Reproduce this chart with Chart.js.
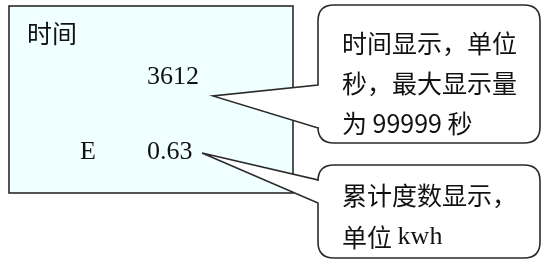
<!DOCTYPE html>
<html>
<head>
<meta charset="utf-8">
<script src="https://cdn.jsdelivr.net/npm/chart.js@4"></script>
<style>
  html, body { margin: 0; padding: 0; background: #ffffff; }
  #wrap { width: 545px; height: 260px; }
</style>
</head>
<body>
<div id="wrap"><canvas id="panel" width="545" height="260"></canvas></div>
<script>
// Display panel contents
const panelTitle = '时间';
const readingLabels = ['', 'E'];
const readingValues = ['3612', '0.63'];

// Callout texts, one array of lines per reading (pieces: [text, serif?])
const calloutLines = [
    [[['时间显示，单位', false]], [['秒，最大显示量', false]], [['为 99999 秒', false]]],
    [[['累计度数显示，', false]], [['单位 ', false], ['kwh', true]]]
];

const cjkFont = '"Noto Sans CJK SC", "Noto Sans", sans-serif';
const serifFont = '"Liberation Serif", "DejaVu Serif", serif';

// Draw a rounded callout box with a pointer on its left side
function drawCallout(ctx, x0, y0, x1, y1, r, baseTop, baseBottom, tipX, tipY) {
    ctx.beginPath();
    ctx.moveTo(x0, baseTop);
    ctx.lineTo(x0, y0 + r);
    ctx.quadraticCurveTo(x0, y0, x0 + r, y0);
    ctx.lineTo(x1 - r, y0);
    ctx.quadraticCurveTo(x1, y0, x1, y0 + r);
    ctx.lineTo(x1, y1 - r);
    ctx.quadraticCurveTo(x1, y1, x1 - r, y1);
    ctx.lineTo(x0 + r, y1);
    ctx.quadraticCurveTo(x0, y1, x0, y1 - r);
    ctx.lineTo(x0, baseBottom);
    ctx.lineTo(tipX, tipY);
    ctx.closePath();
    ctx.fillStyle = '#ffffff';
    ctx.fill();
    ctx.strokeStyle = '#2a2a2a';
    ctx.lineWidth = 1.6;
    ctx.stroke();
}

const panelPlugin = {
    id: 'panelPlugin',
    afterDraw(chart) {
        const ctx = chart.ctx;
        const sx = chart.scales.x;
        const sy = chart.scales.y;
        const px = v => sx.getPixelForValue(v);
        const py = v => sy.getPixelForValue(v);

        ctx.save();

        // display box
        ctx.fillStyle = '#f0ffff';
        ctx.fillRect(px(9), py(6), px(293) - px(9), py(193) - py(6));
        ctx.strokeStyle = '#2a2a2a';
        ctx.lineWidth = 1.6;
        ctx.strokeRect(px(9), py(6), px(293) - px(9), py(193) - py(6));

        ctx.fillStyle = '#111111';
        ctx.textBaseline = 'middle';
        ctx.textAlign = 'left';
        ctx.font = '25px ' + cjkFont;
        ctx.fillText(panelTitle, px(27), py(33));

        ctx.font = '26px ' + serifFont;
        const rowY = [77, 152];
        readingValues.forEach((v, i) => {
            ctx.fillText(v, px(147), py(rowY[i]));
            if (readingLabels[i]) ctx.fillText(readingLabels[i], px(80), py(rowY[i]));
        });

        // callouts
        drawCallout(ctx, px(318), py(5), px(540), py(143), 16, py(85), py(128), px(213), py(96));
        drawCallout(ctx, px(318), py(165), px(540), py(258), 16, py(180), py(203), px(202), py(153));

        ctx.fillStyle = '#111111';
        const lineY = [[43, 83, 123], [195, 237]];
        calloutLines.forEach((lines, i) => {
            lines.forEach((pieces, j) => {
                let x = px(342);
                pieces.forEach(([t, serif]) => {
                    ctx.font = serif ? '26px ' + serifFont : '25px ' + cjkFont;
                    ctx.fillText(t, x, py(lineY[i][j]));
                    x += ctx.measureText(t).width;
                });
            });
        });

        ctx.restore();
    }
};

new Chart(document.getElementById('panel').getContext('2d'), {
    type: 'scatter',
    data: { datasets: [{ data: [], pointRadius: 0 }] },
    options: {
        responsive: false,
        animation: false,
        layout: { padding: 0 },
        scales: {
            x: { type: 'linear', min: 0, max: 545, display: false },
            y: { type: 'linear', min: 0, max: 260, reverse: true, display: false }
        },
        plugins: {
            legend: { display: false },
            tooltip: { enabled: false }
        }
    },
    plugins: [panelPlugin]
});
</script>
</body>
</html>
